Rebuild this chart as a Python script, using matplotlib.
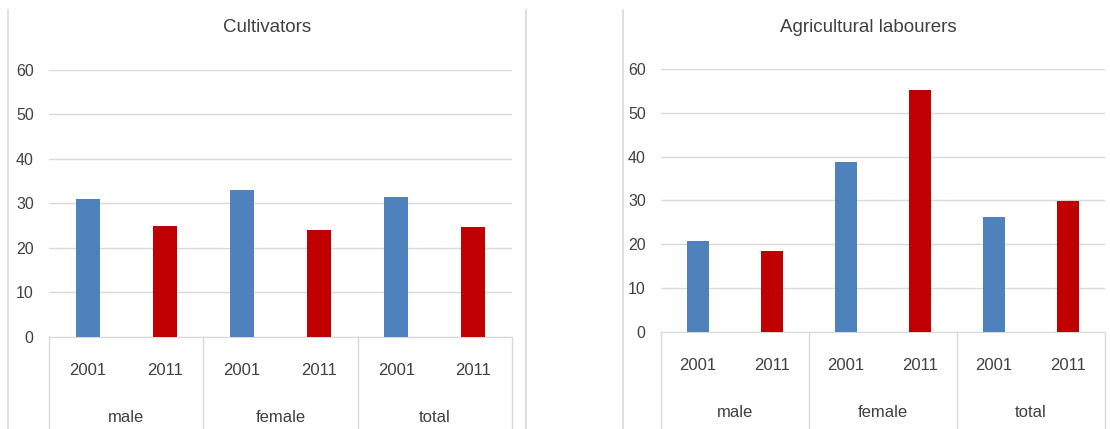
import numpy as np
import matplotlib
matplotlib.use("Agg")
import matplotlib.pyplot as plt
from matplotlib.lines import Line2D

plt.rcParams['font.family'] = ['Liberation Sans Narrow', 'Liberation Sans', 'DejaVu Sans']

groups = ["male", "female", "total"]
years = ["2001", "2011"]
cultivators = [31.0, 25.0, 33.0, 24.0, 31.5, 24.7]
labourers = [20.8, 18.5, 38.8, 55.3, 26.2, 29.9]

blue = "#4F81BD"
red = "#C00000"
grid_c = "#D9D9D9"
txt_c = "#404040"

W, H = 1110, 429
fig = plt.figure(figsize=(W / 100, H / 100), dpi=100)


def px_axes(x0, x1, ytop, ybot):
    # pixel box -> figure fractions
    return fig.add_axes([x0 / W, (H - ybot) / H, (x1 - x0) / W, (ybot - ytop) / H])


def draw(ax, vals, title, title_x):
    n = len(vals)
    x = np.arange(n)
    cols = [blue if i % 2 == 0 else red for i in range(n)]
    ax.bar(x, vals, width=0.31, color=cols, zorder=3)
    ax.set_xlim(-0.5, n - 0.5)
    ax.set_ylim(0, 60)
    ax.set_yticks(range(0, 61, 10))
    ax.grid(axis="y", color=grid_c, linewidth=1)
    ax.set_axisbelow(True)
    for s in ["top", "right", "left"]:
        ax.spines[s].set_visible(False)
    ax.spines["bottom"].set_color(grid_c)
    ax.tick_params(axis="y", length=0, pad=11, labelsize=11.5, labelcolor=txt_c)
    ax.set_xticks([])
    # year labels
    for i in range(n):
        ax.annotate(years[i % 2], xy=(i, 0), xycoords=("data", "axes fraction"),
                    xytext=(0, -24), textcoords="offset points",
                    ha="center", va="center", fontsize=12, color=txt_c)
    # group labels and separators
    for g, name in enumerate(groups):
        ax.annotate(name, xy=(2 * g + 0.5, 0), xycoords=("data", "axes fraction"),
                    xytext=(0, -58), textcoords="offset points",
                    ha="center", va="center", fontsize=12, color=txt_c)
    for b in np.arange(-0.5, n, 2):
        ax.plot([b, b], [0, -0.5], color=grid_c, linewidth=1,
                transform=ax.get_xaxis_transform(), clip_on=False)
    fig.text(title_x / W, 1 - 27 / H, title, ha="center", va="center",
             fontsize=13.5, color=txt_c)


ax1 = px_axes(49, 512, 70, 336.7)
draw(ax1, cultivators, "Cultivators", 267)
ax2 = px_axes(661, 1105, 69, 331.7)
draw(ax2, labourers, "Agricultural labourers", 868)

# chart frame borders
for xp in [8, 526, 623]:
    fig.add_artist(Line2D([xp / W, xp / W], [0, 1 - 10 / H], color=grid_c, linewidth=1.2))

fig.savefig("out.png", dpi=100)
